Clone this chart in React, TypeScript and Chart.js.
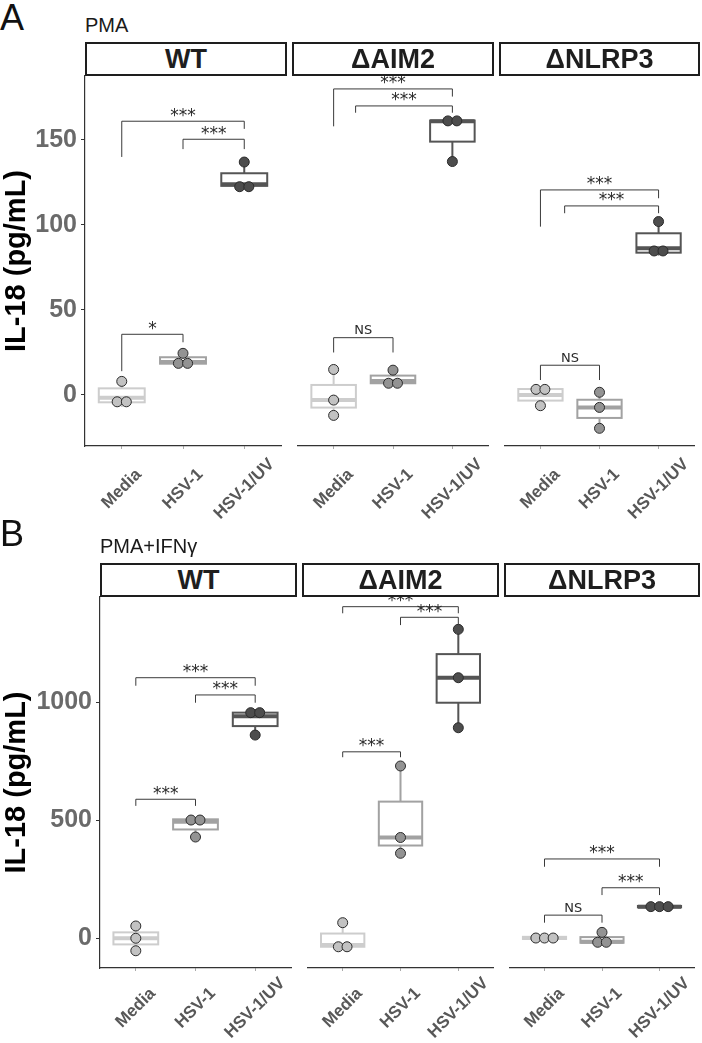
import React, { useEffect, useRef } from "react";
import { Chart, registerables } from "chart.js";

Chart.register(...registerables);

// ---------------- data ----------------
const CATEGORIES = ["Media", "HSV-1", "HSV-1/UV"];
const GENOTYPES = ["WT", "ΔAIM2", "ΔNLRP3"];
const Y_TITLE = "IL-18 (pg/mL)";

// Panel A: PMA
const A_TICKS = [0, 50, 100, 150];
const A_RANGE = [-30, 187.6];
// points per group (Media, HSV-1, HSV-1/UV)
const A_WT_POINTS = [[8, -4, -4], [24.5, 18.6, 18.6], [137, 122.5, 122.5]];
const A_AIM2_POINTS = [[15, -3, -12], [14.6, 6.9, 6.9], [161.2, 161.2, 137.3]];
const A_NLRP3_POINTS = [[3.3, 3.3, -6.3], [1.6, -7.3, -19.6], [102, 84.7, 84.7]];
// box stats per group: [low whisker, q1, median, q3, high whisker]
const A_WT_BOXES = [[-7, -4.3, -1.6, 3.9, 8], [18.4, 18.4, 19.4, 22.2, 24.5], [122, 123, 124, 130.4, 137]];
const A_AIM2_BOXES = [[-12, -7.4, -2.9, 5.9, 15], [5.6, 6.9, 8.2, 11.4, 14.6], [137.3, 149, 161, 161.4, 161.4]];
const A_NLRP3_BOXES = [[-6.3, -3.3, 0, 3.5, 3.5], [-19.6, -13.5, -7.3, -2.8, 1.6], [82, 83.7, 86.3, 95.1, 102]];
// brackets: [x from, x to, top, left leg end, right leg end, label]
const A_WT_BRACKETS = [[1, 2, 35.7, 14, 31, "*"], [1, 3, 161, 140, 156.5, "***"], [2, 3, 150.4, 144.6, 144.6, "***"]];
const A_AIM2_BRACKETS = [[1, 2, 33.7, 25, 25, "NS"], [1, 3, 180, 158, 175.5, "***"], [1.37, 3, 170, 166, 166, "***"]];
const A_NLRP3_BRACKETS = [[1, 2, 17.5, 8.8, 8.8, "NS"], [1, 3, 120.6, 99, 115.7, "***"], [1.41, 3, 111.2, 106.9, 106.9, "***"]];

// Panel B: PMA+IFNγ
const B_TICKS = [0, 500, 1000];
const B_RANGE = [-127, 1445];
const B_WT_POINTS = [[51, -1, -54], [500, 500, 428], [955, 955, 860]];
const B_AIM2_POINTS = [[65, -37, -37], [729, 426, 359], [1308, 1103, 891]];
const B_NLRP3_POINTS = [[0, 0, 0], [24, -18, -18], [133, 133, 133]];
const B_WT_BOXES = [[-54, -27, -1, 24, 51], [428, 460, 493, 503, 513], [858, 898, 940, 955, 970]];
const B_AIM2_BOXES = [[-44, -37, -30, 19, 65], [359, 392, 426, 578, 729], [891, 997, 1103, 1203, 1308]];
const B_NLRP3_BOXES = [[-5, -4, 0, 5, 6], [-24, -20, -16, 4, 24], [128, 130, 133, 136, 138]];
const B_WT_BRACKETS = [[1, 2, 588, 560, 560, "***"], [1, 3, 1103, 1069, 1069, "***"], [2, 3, 1030, 997, 997, "***"]];
const B_AIM2_BRACKETS = [[1, 2, 789, 766, 766, "***"], [1, 3, 1404, 1376, 1376, "***"], [2, 3, 1359, 1326, 1326, "***"]];
const B_NLRP3_BRACKETS = [[1, 2, 97, 65, 65, "NS"], [1, 3, 335, 302, 302, "***"], [2, 3, 213, 182, 182, "***"]];

// ---------------- styles ----------------
const FONT = '"Liberation Sans", Arial, Helvetica, sans-serif';
const SIG_FONT = '"DejaVu Sans", sans-serif';
const BOX_COLORS = ["#cdcdcd", "#a2a2a2", "#555555"];
const POINT_COLORS = ["#c2c2c2", "#939393", "#4d4d4d"];
const BOX_WIDTH = 0.75;
const DOT_STEP = 0.15;
const STRIP_H = 34;

type Facet = { points: number[][]; boxes: number[][]; brackets: any[]; left: number; right: number };
type Panel = {
  letter: string; letterTop: number; title: string; titleTop: number; titleLeft: number;
  stripTop: number; plotBottom: number; canvasBottom: number; yAxisWidth: number; labelDrop: number;
  ticks: number[]; range: number[]; facets: Facet[];
};

const PANELS: Panel[] = [
  {
    letter: "A", letterTop: 0, title: "PMA", titleTop: 15, titleLeft: 85,
    stripTop: 42, plotBottom: 446, canvasBottom: 530, yAxisWidth: 85, labelDrop: 43,
    ticks: A_TICKS, range: A_RANGE,
    facets: [
      { points: A_WT_POINTS, boxes: A_WT_BOXES, brackets: A_WT_BRACKETS, left: 85, right: 287 },
      { points: A_AIM2_POINTS, boxes: A_AIM2_BOXES, brackets: A_AIM2_BRACKETS, left: 292, right: 494 },
      { points: A_NLRP3_POINTS, boxes: A_NLRP3_BOXES, brackets: A_NLRP3_BRACKETS, left: 499, right: 700 },
    ],
  },
  {
    letter: "B", letterTop: 516, title: "PMA+IFNγ", titleTop: 536, titleLeft: 100,
    stripTop: 563, plotBottom: 968, canvasBottom: 1043, yAxisWidth: 100, labelDrop: 40,
    ticks: B_TICKS, range: B_RANGE,
    facets: [
      { points: B_WT_POINTS, boxes: B_WT_BOXES, brackets: B_WT_BRACKETS, left: 100, right: 297 },
      { points: B_AIM2_POINTS, boxes: B_AIM2_BOXES, brackets: B_AIM2_BRACKETS, left: 302, right: 499 },
      { points: B_NLRP3_POINTS, boxes: B_NLRP3_BOXES, brackets: B_NLRP3_BRACKETS, left: 504, right: 700 },
    ],
  },
];

function stackPoints(vals: number[], cat: number) {
  const counts = new Map<number, number>();
  vals.forEach((v) => counts.set(v, (counts.get(v) || 0) + 1));
  const seen = new Map<number, number>();
  return vals.map((v) => {
    const n = counts.get(v) as number;
    const k = seen.get(v) || 0;
    seen.set(v, k + 1);
    return { x: cat + (k - (n - 1) / 2) * DOT_STEP, y: v };
  });
}

function makePlugin(facet: Facet, labelDrop: number) {
  return {
    id: "facetDecor",
    beforeDatasetsDraw(chart: any) {
      const { ctx } = chart;
      const x = chart.scales.x;
      const y = chart.scales.y;
      facet.boxes.forEach((b, gi) => {
        const [lo, q1, med, q3, hi] = b;
        const cx = x.getPixelForValue(gi + 1);
        const x0 = x.getPixelForValue(gi + 1 - BOX_WIDTH / 2);
        const x1 = x.getPixelForValue(gi + 1 + BOX_WIDTH / 2);
        ctx.save();
        ctx.strokeStyle = BOX_COLORS[gi];
        ctx.lineWidth = 2;
        ctx.beginPath();
        ctx.moveTo(cx, y.getPixelForValue(hi));
        ctx.lineTo(cx, y.getPixelForValue(q3));
        ctx.moveTo(cx, y.getPixelForValue(q1));
        ctx.lineTo(cx, y.getPixelForValue(lo));
        ctx.stroke();
        const yt = y.getPixelForValue(q3);
        const yb = y.getPixelForValue(q1);
        ctx.fillStyle = "#ffffff";
        ctx.fillRect(x0, yt, x1 - x0, yb - yt);
        ctx.strokeRect(x0, yt, x1 - x0, yb - yt);
        ctx.lineWidth = 4;
        ctx.beginPath();
        ctx.moveTo(x0, y.getPixelForValue(med));
        ctx.lineTo(x1, y.getPixelForValue(med));
        ctx.stroke();
        ctx.restore();
      });
    },
    afterDatasetsDraw(chart: any) {
      const { ctx } = chart;
      const x = chart.scales.x;
      const y = chart.scales.y;
      facet.brackets.forEach((br) => {
        const [a, b, top, ya, yb, label] = br;
        const px1 = x.getPixelForValue(a);
        const px2 = x.getPixelForValue(b);
        const pt = y.getPixelForValue(top);
        ctx.save();
        ctx.strokeStyle = "#3a3a3a";
        ctx.lineWidth = 1;
        ctx.beginPath();
        ctx.moveTo(px1, y.getPixelForValue(ya));
        ctx.lineTo(px1, pt);
        ctx.lineTo(px2, pt);
        ctx.lineTo(px2, y.getPixelForValue(yb));
        ctx.stroke();
        ctx.fillStyle = "#2a2a2a";
        ctx.textAlign = "center";
        ctx.textBaseline = "alphabetic";
        if (label === "NS") {
          ctx.font = `13px ${SIG_FONT}`;
          ctx.fillText(label, (px1 + px2) / 2, pt - 3.5);
        } else {
          ctx.font = `17px ${SIG_FONT}`;
          ctx.fillText(label, (px1 + px2) / 2, pt - 0.5);
        }
        ctx.restore();
      });
    },
    afterDraw(chart: any) {
      // category labels of the x axis, rotated 45° and centred under each tick
      const { ctx } = chart;
      const x = chart.scales.x;
      ctx.save();
      ctx.font = `bold 17px ${FONT}`;
      ctx.fillStyle = "#585858";
      ctx.textAlign = "center";
      ctx.textBaseline = "middle";
      x.ticks.forEach((t: any) => {
        const px = x.getPixelForValue(t.value);
        ctx.save();
        ctx.translate(px, chart.chartArea.bottom + labelDrop);
        ctx.rotate(-Math.PI / 4);
        ctx.fillText(CATEGORIES[Math.round(t.value) - 1], 0, 0);
        ctx.restore();
      });
      ctx.restore();
    },
  };
}

function FacetChart({ panel, facet, index }: { panel: Panel; facet: Facet; index: number }) {
  const ref = useRef<HTMLCanvasElement>(null);
  const showY = index === 0;
  const left = showY ? 0 : facet.left;
  const width = facet.right - left;
  const top = panel.stripTop;
  const height = panel.canvasBottom - top;
  const xAxisH = panel.canvasBottom - panel.plotBottom;

  useEffect(() => {
    const chart = new Chart(ref.current as HTMLCanvasElement, {
      type: "scatter",
      data: {
        datasets: facet.points.map((vals, gi) => ({
          data: stackPoints(vals, gi + 1),
          pointRadius: 5,
          pointHoverRadius: 5,
          pointBackgroundColor: POINT_COLORS[gi],
          pointBorderColor: "#2b2b2b",
          pointBorderWidth: 1,
        })),
      },
      options: {
        animation: false,
        responsive: false,
        events: [],
        layout: { padding: { top: STRIP_H, left: 0, right: 0, bottom: 0 } },
        plugins: { legend: { display: false }, tooltip: { enabled: false } },
        scales: {
          x: {
            type: "linear",
            min: 0.4,
            max: 3.6,
            afterBuildTicks: (s: any) => {
              s.ticks = [1, 2, 3].map((v) => ({ value: v }));
            },
            afterFit: (s: any) => {
              s.height = xAxisH;
              s.paddingLeft = 0;
              s.paddingRight = 0;
            },
            ticks: { display: false },
            grid: { drawOnChartArea: false, drawTicks: true, tickLength: 3, tickColor: "#aaaaaa" },
            border: { display: true, color: "#333333", width: 1.2 },
          },
          y: {
            display: showY,
            min: panel.range[0],
            max: panel.range[1],
            afterBuildTicks: (s: any) => {
              s.ticks = panel.ticks.map((v) => ({ value: v }));
            },
            afterFit: (s: any) => {
              s.width = showY ? panel.yAxisWidth : 0;
              s.paddingTop = 0;
              s.paddingBottom = 0;
            },
            ticks: {
              padding: 4,
              callback: (v: any) => String(v),
              font: { family: FONT, size: 25, weight: "bold" },
              color: "#6a6a6a",
            },
            grid: { drawOnChartArea: false, drawTicks: true, tickLength: 4, tickColor: "#333333" },
            border: { display: true, color: "#333333", width: 1.2 },
            title: {
              display: true,
              text: Y_TITLE,
              color: "#000000",
              padding: 0,
              font: { family: FONT, size: 29, weight: "bold" },
            },
          },
        },
      } as any,
      plugins: [makePlugin(facet, panel.labelDrop)],
    });
    return () => chart.destroy();
  }, []);

  return (
    <canvas
      ref={ref}
      width={width}
      height={height}
      style={{ position: "absolute", left, top, width, height }}
    />
  );
}

function Strip({ text, left, right, top }: { text: string; left: number; right: number; top: number }) {
  return (
    <div
      style={{
        position: "absolute",
        left,
        top,
        width: right - left,
        height: STRIP_H,
        boxSizing: "border-box",
        border: "2px solid #1e1e1e",
        background: "#ffffff",
        display: "flex",
        alignItems: "center",
        justifyContent: "center",
        fontFamily: FONT,
        fontWeight: "bold",
        fontSize: 27,
        color: "#1e1e1e",
      }}
    >
      {text}
    </div>
  );
}

export default function App() {
  return (
    <div
      style={{
        position: "absolute",
        left: 0,
        top: 0,
        width: 702,
        height: 1043,
        background: "#ffffff",
        overflow: "hidden",
        fontFamily: FONT,
      }}
    >
      {PANELS.map((panel, pi) => (
        <React.Fragment key={pi}>
          <div
            style={{
              position: "absolute",
              left: 0,
              top: panel.letterTop,
              fontSize: 36,
              lineHeight: "36px",
              color: "#111",
              fontFamily: FONT,
            }}
          >
            {panel.letter}
          </div>
          <div
            style={{
              position: "absolute",
              left: panel.titleLeft,
              top: panel.titleTop,
              fontSize: 20,
              lineHeight: "20px",
              color: "#1a1a1a",
              fontFamily: FONT,
            }}
          >
            {panel.title}
          </div>
          {panel.facets.map((f, fi) => (
            <FacetChart key={fi} panel={panel} facet={f} index={fi} />
          ))}
          {panel.facets.map((f, fi) => (
            <Strip key={"s" + fi} text={GENOTYPES[fi]} left={f.left} right={f.right} top={panel.stripTop} />
          ))}
        </React.Fragment>
      ))}
    </div>
  );
}
